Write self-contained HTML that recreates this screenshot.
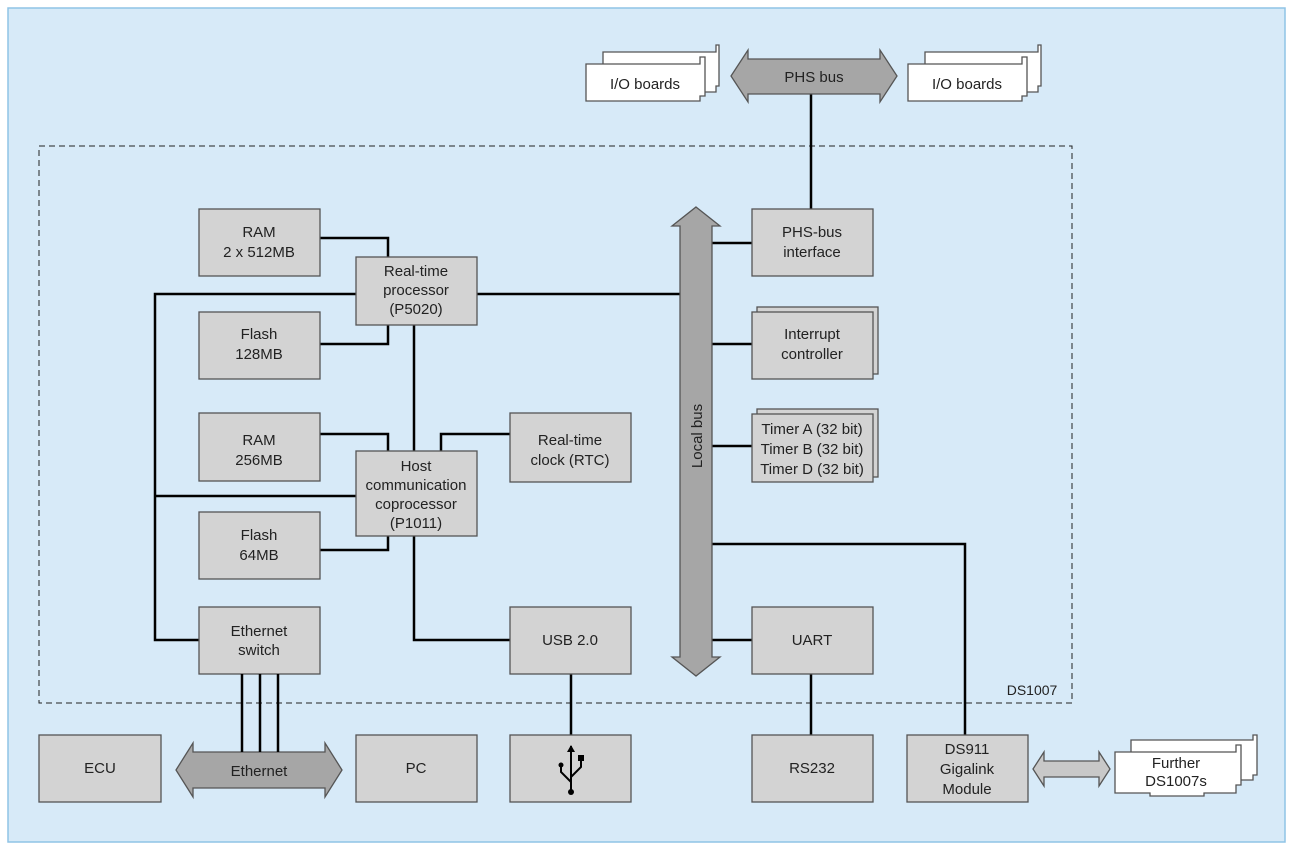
<!DOCTYPE html>
<html><head><meta charset="utf-8"><style>
html,body{margin:0;padding:0;background:#fff;}
svg{display:block;}
text{font-family:"Liberation Sans",sans-serif;font-size:15px;fill:#222;text-anchor:middle;}
.b{fill:#d3d3d3;stroke:#555;stroke-width:1.3;}
.w{fill:#fff;stroke:#555;stroke-width:1.3;}
.l{stroke:#000;stroke-width:2.5;fill:none;}
.a{fill:#a6a6a6;stroke:#555;stroke-width:1.3;}
</style></head><body>
<svg width="1294" height="849" viewBox="0 0 1294 849" xmlns="http://www.w3.org/2000/svg">
<rect x="0" y="0" width="1294" height="849" fill="#fff"/>
<rect x="8" y="8" width="1277" height="834" fill="#d7eaf8" stroke="#8fc4e6" stroke-width="1.5"/>
<rect x="39" y="146" width="1033" height="557" fill="none" stroke="#222" stroke-width="1" stroke-dasharray="6,4"/>
<text x="1032" y="695" style="font-size:14px">DS1007</text>

<path class="l" d="M320,238H388V257 M320,344H388V325 M477,294H682 M356,294H155V640H199 M155,496H356 M414,325V451 M320,434H388V451 M510,434H441V451 M320,550H388V536 M414,536V640H510 M571,674V735 M712,243H752 M712,344H752 M712,446H752 M712,640H752 M712,544H965V735 M811,94V209 M811,674V735"/>

<path class="a" d="M696,207 L720,226 L712,226 L712,657 L720,657 L696,676 L672,657 L680,657 L680,226 L672,226 Z"/>
<text transform="translate(702,436) rotate(-90)">Local bus</text>

<rect class="b" x="199" y="209" width="121" height="67"/><text x="259" y="237">RAM</text><text x="259" y="257">2 x 512MB</text>
<rect class="b" x="356" y="257" width="121" height="68"/><text x="416" y="276">Real-time</text><text x="416" y="295">processor</text><text x="416" y="314">(P5020)</text>
<rect class="b" x="199" y="312" width="121" height="67"/><text x="259" y="339">Flash</text><text x="259" y="359">128MB</text>
<rect class="b" x="199" y="413" width="121" height="68"/><text x="259" y="445">RAM</text><text x="259" y="465">256MB</text>
<rect class="b" x="356" y="451" width="121" height="85"/><text x="416" y="471">Host</text><text x="416" y="490">communication</text><text x="416" y="509">coprocessor</text><text x="416" y="528">(P1011)</text>
<rect class="b" x="510" y="413" width="121" height="69"/><text x="570" y="445">Real-time</text><text x="570" y="465">clock (RTC)</text>
<rect class="b" x="199" y="512" width="121" height="67"/><text x="259" y="540">Flash</text><text x="259" y="560">64MB</text>
<rect class="b" x="199" y="607" width="121" height="67"/><text x="259" y="636">Ethernet</text><text x="259" y="655">switch</text>
<rect class="b" x="510" y="607" width="121" height="67"/><text x="570" y="645">USB 2.0</text>

<rect class="b" x="752" y="209" width="121" height="67"/><text x="812" y="237">PHS-bus</text><text x="812" y="257">interface</text>
<rect class="b" x="757" y="307" width="121" height="67"/>
<rect class="b" x="752" y="312" width="121" height="67"/><text x="812" y="339">Interrupt</text><text x="812" y="359">controller</text>
<rect class="b" x="757" y="409" width="121" height="68"/>
<rect class="b" x="752" y="414" width="121" height="68"/><text x="812" y="434">Timer A (32 bit)</text><text x="812" y="454">Timer B (32 bit)</text><text x="812" y="474">Timer D (32 bit)</text>
<rect class="b" x="752" y="607" width="121" height="67"/><text x="812" y="645">UART</text>

<rect class="b" x="39" y="735" width="122" height="67"/><text x="100" y="773">ECU</text>
<path class="a" d="M176,770 L193,743 L193,752 L325,752 L325,743 L342,770 L325,797 L325,788 L193,788 L193,797 Z"/>
<text x="259" y="776">Ethernet</text>
<path class="l" d="M242,674V752 M260,674V752 M278,674V752"/>
<rect class="b" x="356" y="735" width="121" height="67"/><text x="416" y="773">PC</text>
<rect class="b" x="510" y="735" width="121" height="67"/>
<g stroke="#000" stroke-width="2" fill="none">
<path d="M571,746V791 M571,782L561,772V764 M571,777L581,767V759"/>
</g>
<polygon points="571,745 567,752 575,752" fill="#000"/>
<circle cx="561" cy="765" r="2.5" fill="#000"/>
<rect x="578" y="755" width="6" height="6" fill="#000"/>
<circle cx="571" cy="792" r="3" fill="#000"/>
<rect class="b" x="752" y="735" width="121" height="67"/><text x="812" y="773">RS232</text>
<rect class="b" x="907" y="735" width="121" height="67"/><text x="967" y="754">DS911</text><text x="967" y="774">Gigalink</text><text x="967" y="794">Module</text>
<path class="a" style="fill:#c8c8c8" d="M1033,769 L1044,752 L1044,761 L1099,761 L1099,752 L1110,769 L1099,786 L1099,777 L1044,777 L1044,786 Z"/>

<path class="w" d="M1131,752 V740 H1253 V735 H1257 V775 H1253 V780 H1240"/>
<path class="w" d="M1115,752 H1236 V745 H1241 V785 H1236 V793 H1204 V796 H1150 V793 H1115 Z"/>
<text x="1176" y="768">Further</text><text x="1176" y="786">DS1007s</text>

<path class="a" d="M731,76 L748,50 L748,59 L880,59 L880,50 L897,76 L880,102 L880,94 L748,94 L748,102 Z"/>
<text x="814" y="82">PHS bus</text>

<path class="w" d="M603,64 V52 H716 V45 H719 V86 H716 V92 H700"/>
<path class="w" d="M586,64 H700 V57 H705 V96 H700 V101 H586 Z"/>
<text x="645" y="89">I/O boards</text>
<path class="w" d="M925,64 V52 H1038 V45 H1041 V86 H1038 V92 H1022"/>
<path class="w" d="M908,64 H1022 V57 H1027 V96 H1022 V101 H908 Z"/>
<text x="967" y="89">I/O boards</text>
</svg>
</body></html>
